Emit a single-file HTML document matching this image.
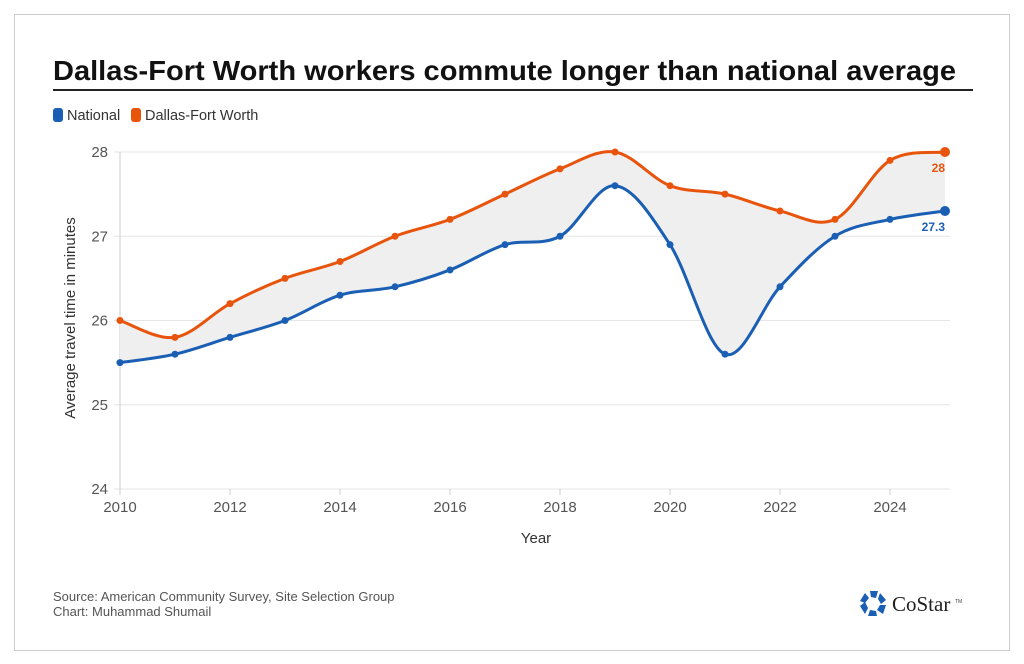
<!DOCTYPE html>
<html><head><meta charset="utf-8"><style>
body{margin:0;background:#fff;width:1024px;height:659px;overflow:hidden;font-family:"Liberation Sans",Arial,sans-serif}
</style></head><body>
<svg id="s" width="1024" height="659" xmlns="http://www.w3.org/2000/svg" font-family="Liberation Sans, Arial, sans-serif">
<rect x="14.5" y="14.5" width="995" height="636" fill="#fff" stroke="#ccc"/>
<text x="53" y="80" font-size="28" font-weight="bold" fill="#111" textLength="903" lengthAdjust="spacingAndGlyphs">Dallas-Fort Worth workers commute longer than national average</text>
<rect x="53" y="89" width="920" height="2" fill="#222"/>
<rect x="53" y="108" width="10" height="14" rx="3" fill="#1a5fb4"/>
<text x="67" y="120" font-size="14.5" fill="#333">National</text>
<rect x="131" y="108" width="10" height="14" rx="3" fill="#e8540c"/>
<text x="145" y="120" font-size="14.5" fill="#333">Dallas-Fort Worth</text>
<g id="grid" stroke="#e6e6e6" stroke-width="1"></g>
<line x1="120" y1="152" x2="120" y2="489" stroke="#ccc"/>
<g id="ylab" font-size="15" fill="#555" text-anchor="end"></g>
<g id="xlab" font-size="15" fill="#555" text-anchor="middle"></g>
<text transform="translate(75,318) rotate(-90)" font-size="15" fill="#333" text-anchor="middle">Average travel time in minutes</text>
<text x="536" y="543" font-size="15" fill="#333" text-anchor="middle">Year</text>
<path id="area" fill="#efefef"/>
<path id="nat" fill="none" stroke="#1a5fb4" stroke-width="3"/>
<path id="dfw" fill="none" stroke="#e8540c" stroke-width="3"/>
<g id="pts"></g>
<text x="945" y="172" font-size="12" font-weight="bold" fill="#e8540c" text-anchor="end">28</text>
<text x="945" y="231" font-size="12" font-weight="bold" fill="#1a5fb4" text-anchor="end">27.3</text>
<text x="53" y="601" font-size="13" fill="#555">Source: American Community Survey, Site Selection Group</text>
<text x="53" y="616" font-size="13" fill="#555">Chart: Muhammad Shumail</text>
<g transform="translate(873,603)" fill="#1a5fb4">
<polygon points="-3,-12 5,-12 3,-5 -2,-6"/>
<polygon points="7,-10 13,-3 8,1 5,-4"/>
<polygon points="13,2 10,11 4,7 7,2"/>
<polygon points="4,13 -5,13 -3,7 3,8"/>
<polygon points="-8,11 -13,3 -8,-1 -5,5"/>
<polygon points="-13,-2 -8,-10 -4,-5 -8,0"/>
</g>
<text x="892" y="611" font-size="21" fill="#222" font-family="Liberation Serif, serif">CoStar</text>
<text x="955" y="603" font-size="5" fill="#444">TM</text>
</svg>
<script>
var N=[25.5,25.6,25.8,26.0,26.3,26.4,26.6,26.9,27.0,27.6,26.9,25.6,26.4,27.0,27.2,27.3];
var D=[26.0,25.8,26.2,26.5,26.7,27.0,27.2,27.5,27.8,28.0,27.6,27.5,27.3,27.2,27.9,28.0];
function X(i){return 120+55*i}function Y(v){return 152+(28-v)*84.25}
function pts(a){return a.map(function(v,i){return[X(i),Y(v)]})}
function spl(p,start){var d=start?"M"+p[0][0]+","+p[0][1]:"L"+p[0][0]+","+p[0][1];
for(var i=0;i<p.length-1;i++){var p0=p[i-1]||p[i],p1=p[i],p2=p[i+1],p3=p[i+2]||p2,t=1/6;
d+="C"+(p1[0]+(p2[0]-p0[0])*t)+","+(p1[1]+(p2[1]-p0[1])*t)+" "+(p2[0]-(p3[0]-p1[0])*t)+","+(p2[1]-(p3[1]-p1[1])*t)+" "+p2[0]+","+p2[1];}return d}
var pn=pts(N),pd=pts(D);
document.getElementById("nat").setAttribute("d",spl(pn,1));
document.getElementById("dfw").setAttribute("d",spl(pd,1));
document.getElementById("area").setAttribute("d",spl(pd,1)+spl(pn.slice().reverse(),0)+"Z");
var ns="http://www.w3.org/2000/svg";
function el(g,t,a,txt){var e=document.createElementNS(ns,t);for(var k in a)e.setAttribute(k,a[k]);if(txt)e.textContent=txt;document.getElementById(g).appendChild(e)}
for(var v=24;v<=28;v++){el("grid","line",{x1:114,x2:950,y1:Y(v),y2:Y(v)});el("ylab","text",{x:108,y:Y(v)+5},String(v))}
for(var y=2010;y<=2024;y+=2){el("xlab","text",{x:X(y-2010),y:512},String(y));el("grid","line",{x1:X(y-2010),x2:X(y-2010),y1:489,y2:495,stroke:"#ccc"})}
pn.forEach(function(p,i){el("pts","circle",{cx:p[0],cy:p[1],r:i==15?5:3.5,fill:"#1a5fb4"})});
pd.forEach(function(p,i){el("pts","circle",{cx:p[0],cy:p[1],r:i==15?5:3.5,fill:"#e8540c"})});
</script>
</body></html>
